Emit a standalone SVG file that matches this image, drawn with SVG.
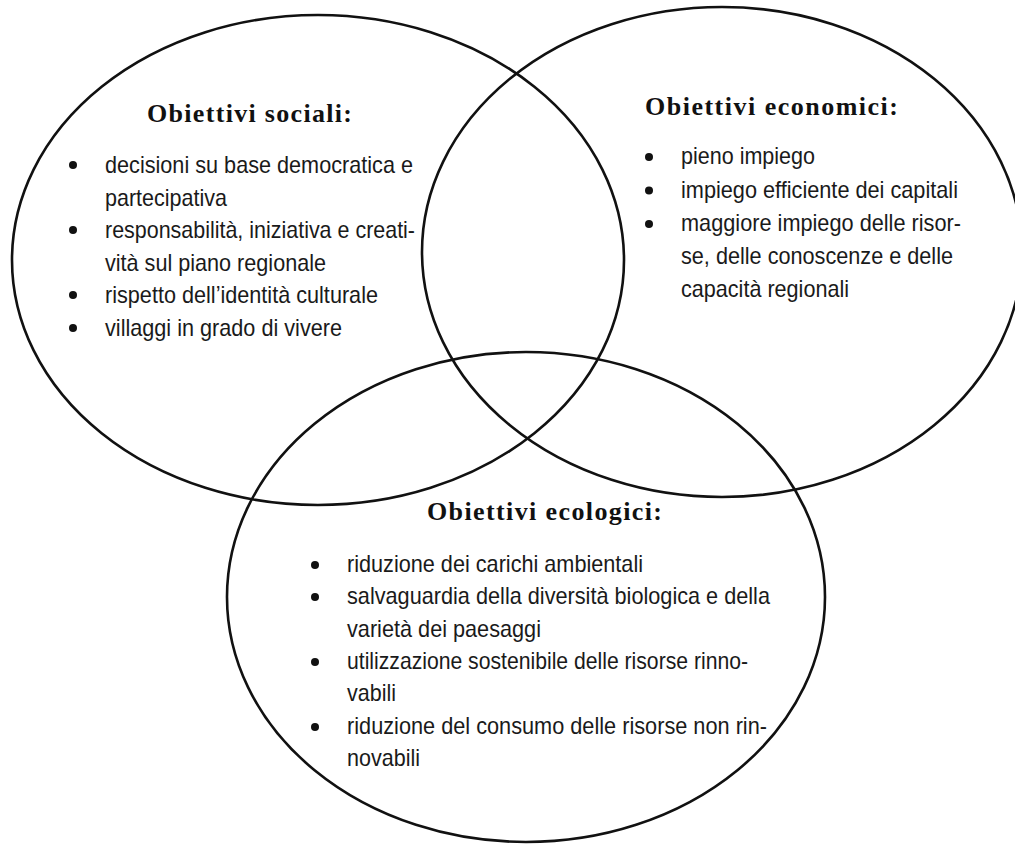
<svg xmlns="http://www.w3.org/2000/svg" width="1015" height="844" viewBox="0 0 1015 844">
  <style>
    .ring { fill: none; stroke: #111; stroke-width: 2.6; }
    .title { font-family: "Liberation Serif", "Times New Roman", serif; font-weight: bold; font-size: 26px; fill: #111; }
    .item { font-family: "Liberation Sans", Arial, sans-serif; font-size: 24px; fill: #1a1a1a; }
    .dot { fill: #111; }
  </style>
  <rect x="0" y="0" width="1015" height="844" fill="#fff"/>

  <!-- the three overlapping goal circles -->
  <g id="connectors">
    <ellipse class="ring" cx="318" cy="260" rx="306" ry="245"/>
    <ellipse class="ring" cx="722" cy="252" rx="300" ry="245"/>
    <ellipse class="ring" cx="526" cy="597" rx="299" ry="245"/>
  </g>

  <!-- social goals -->
  <g id="obiettivi-sociali">
    <text class="title" x="147" y="122" textLength="205" lengthAdjust="spacing">Obiettivi sociali:</text>
    <circle class="dot" cx="73" cy="165" r="4"/>
    <circle class="dot" cx="73" cy="230" r="4"/>
    <circle class="dot" cx="73" cy="295" r="4"/>
    <circle class="dot" cx="73" cy="328" r="4"/>
    <text class="item" x="105" y="173" textLength="308" lengthAdjust="spacingAndGlyphs">decisioni su base democratica e</text>
    <text class="item" x="105" y="205.5" textLength="122" lengthAdjust="spacingAndGlyphs">partecipativa</text>
    <text class="item" x="105" y="238" textLength="310" lengthAdjust="spacingAndGlyphs">responsabilità, iniziativa e creati-</text>
    <text class="item" x="105" y="270.5" textLength="221" lengthAdjust="spacingAndGlyphs">vità sul piano regionale</text>
    <text class="item" x="105" y="303" textLength="273" lengthAdjust="spacingAndGlyphs">rispetto dell’identità culturale</text>
    <text class="item" x="105" y="335.5" textLength="237" lengthAdjust="spacingAndGlyphs">villaggi in grado di vivere</text>
  </g>

  <!-- economic goals -->
  <g id="obiettivi-economici">
    <text class="title" x="645" y="115" textLength="253" lengthAdjust="spacing">Obiettivi economici:</text>
    <circle class="dot" cx="649" cy="157" r="4"/>
    <circle class="dot" cx="649" cy="190.5" r="4"/>
    <circle class="dot" cx="649" cy="224" r="4"/>
    <text class="item" x="681" y="164" textLength="134" lengthAdjust="spacingAndGlyphs">pieno impiego</text>
    <text class="item" x="681" y="197.5" textLength="277" lengthAdjust="spacingAndGlyphs">impiego efficiente dei capitali</text>
    <text class="item" x="681" y="231" textLength="280" lengthAdjust="spacingAndGlyphs">maggiore impiego delle risor-</text>
    <text class="item" x="681" y="264" textLength="272" lengthAdjust="spacingAndGlyphs">se, delle conoscenze e delle</text>
    <text class="item" x="681" y="296.5" textLength="168" lengthAdjust="spacingAndGlyphs">capacità regionali</text>
  </g>

  <!-- ecological goals -->
  <g id="obiettivi-ecologici">
    <text class="title" x="427" y="520" textLength="235" lengthAdjust="spacing">Obiettivi ecologici:</text>
    <circle class="dot" cx="315" cy="565" r="4"/>
    <circle class="dot" cx="315" cy="597" r="4"/>
    <circle class="dot" cx="315" cy="662" r="4"/>
    <circle class="dot" cx="315" cy="727" r="4"/>
    <text class="item" x="347" y="571.5" textLength="296" lengthAdjust="spacingAndGlyphs">riduzione dei carichi ambientali</text>
    <text class="item" x="347" y="603.5" textLength="423" lengthAdjust="spacingAndGlyphs">salvaguardia della diversità biologica e della</text>
    <text class="item" x="347" y="636.5" textLength="194" lengthAdjust="spacingAndGlyphs">varietà dei paesaggi</text>
    <text class="item" x="347" y="668.5" textLength="401" lengthAdjust="spacingAndGlyphs">utilizzazione sostenibile delle risorse rinno-</text>
    <text class="item" x="347" y="700.5" textLength="49" lengthAdjust="spacingAndGlyphs">vabili</text>
    <text class="item" x="347" y="733.5" textLength="420" lengthAdjust="spacingAndGlyphs">riduzione del consumo delle risorse non rin-</text>
    <text class="item" x="347" y="765.5" textLength="73" lengthAdjust="spacingAndGlyphs">novabili</text>
  </g>
</svg>
